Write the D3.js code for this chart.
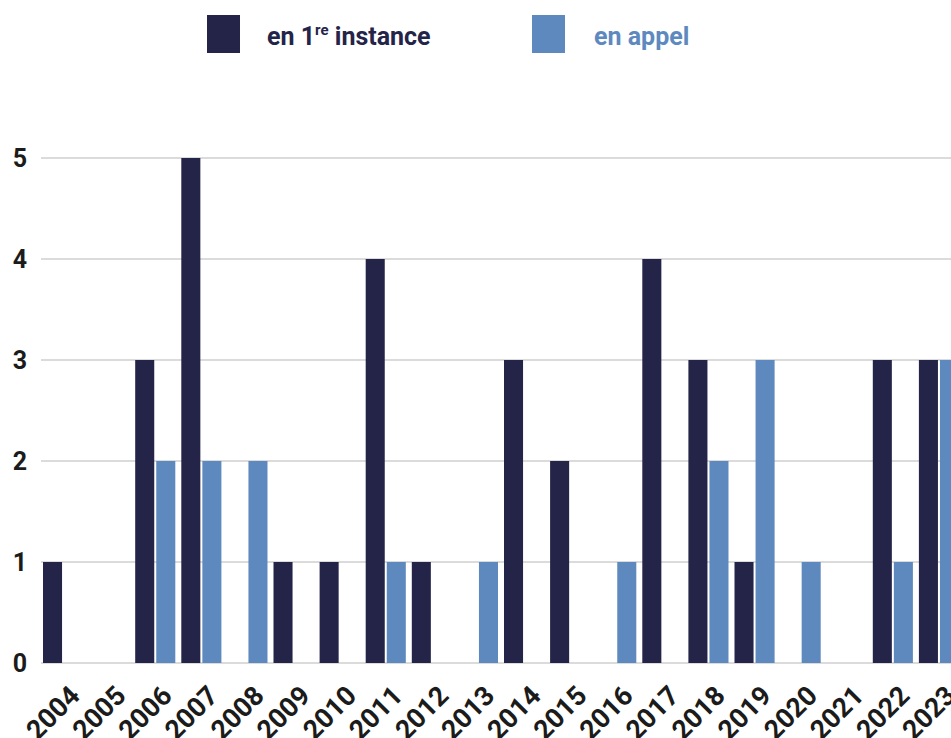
<!DOCTYPE html>
<html>
<head>
  <meta charset="utf-8">
  <script src="https://d3js.org/d3.v7.min.js"></script>
  <style>
    body { margin: 0; background: #fff; overflow: hidden; }
    svg { display: block; font-family: Roboto, "DejaVu Sans", sans-serif; }
    .grid line { stroke: #cfcfcf; stroke-width: 1.5px; }
    .tick-label { font-size: 25px; font-weight: 700; fill: #1b1b1b; }
    .x-label { font-size: 27px; font-weight: 700; fill: #1b1b1b; }
    .legend-text { font-size: 25px; font-weight: 700; }
  </style>
</head>
<body>
  <svg id="chart" width="951" height="738"></svg>
  <script>
    // Données : nombre de décisions par année
    const years = ["2004", "2005", "2006", "2007", "2008", "2009", "2010", "2011", "2012", "2013",
                   "2014", "2015", "2016", "2017", "2018", "2019", "2020", "2021", "2022", "2023"];
    const premiereInstance = [1, 0, 3, 5, 0, 1, 1, 4, 1, 0, 3, 2, 0, 4, 3, 1, 0, 0, 3, 3];
    const enAppel =          [0, 0, 2, 2, 2, 0, 0, 1, 0, 1, 0, 0, 1, 0, 2, 3, 1, 0, 1, 3];
    const yTicks = [0, 1, 2, 3, 4, 5];

    const series = [
      { key: "premiere", color: "#242449", values: premiereInstance },
      { key: "appel", color: "#5e89bf", values: enAppel }
    ];

    const svg = d3.select("#chart");

    const x0 = d3.scaleBand().domain(years).range([40, 962]).padding(0);
    const x1 = d3.scaleBand().domain(series.map(s => s.key))
      .range([3, x0.bandwidth() - 3]).paddingInner(2 / 21);
    const y = d3.scaleLinear().domain([0, 5]).range([663, 158]);

    // Lignes de grille
    svg.append("g").attr("class", "grid")
      .selectAll("line").data(yTicks).join("line")
      .attr("x1", 41).attr("x2", 951)
      .attr("y1", d => y(d)).attr("y2", d => y(d));

    // Étiquettes de l'axe Y
    svg.append("g").selectAll("text").data(yTicks).join("text")
      .attr("class", "tick-label")
      .attr("x", 20).attr("y", d => y(d))
      .attr("text-anchor", "middle")
      .attr("dominant-baseline", "central")
      .text(d => d);

    // Barres
    series.forEach(s => {
      svg.append("g").selectAll("rect").data(s.values.map((v, i) => ({ year: years[i], v })))
        .join("rect")
        .filter(d => d.v > 0)
        .attr("x", d => x0(d.year) + x1(s.key))
        .attr("width", x1.bandwidth())
        .attr("y", d => y(d.v))
        .attr("height", d => y(0) - y(d.v))
        .attr("fill", s.color);
    });

    // Étiquettes de l'axe X (pivotées)
    svg.append("g").selectAll("text").data(years).join("text")
      .attr("class", "x-label")
      .attr("text-anchor", "end")
      .attr("transform", d => `translate(${x0(d) + x0.bandwidth() / 2 + 5},${684}) rotate(-45)`)
      .attr("dy", "0.7em")
      .text(d => d);

    // Légende
    const legend = svg.append("g");
    legend.append("rect").attr("x", 207).attr("y", 15).attr("width", 33).attr("height", 38).attr("fill", series[0].color);
    const t1 = legend.append("text").attr("class", "legend-text").attr("x", 267).attr("y", 45).attr("fill", series[0].color);
    t1.append("tspan").text("en 1");
    t1.append("tspan").attr("font-size", "15px").attr("dy", "-10").text("re");
    t1.append("tspan").attr("dy", "10").text(" instance");

    legend.append("rect").attr("x", 532).attr("y", 15).attr("width", 33).attr("height", 38).attr("fill", series[1].color);
    legend.append("text").attr("class", "legend-text").attr("x", 594).attr("y", 45)
      .attr("fill", series[1].color).text("en appel");
  </script>
</body>
</html>
